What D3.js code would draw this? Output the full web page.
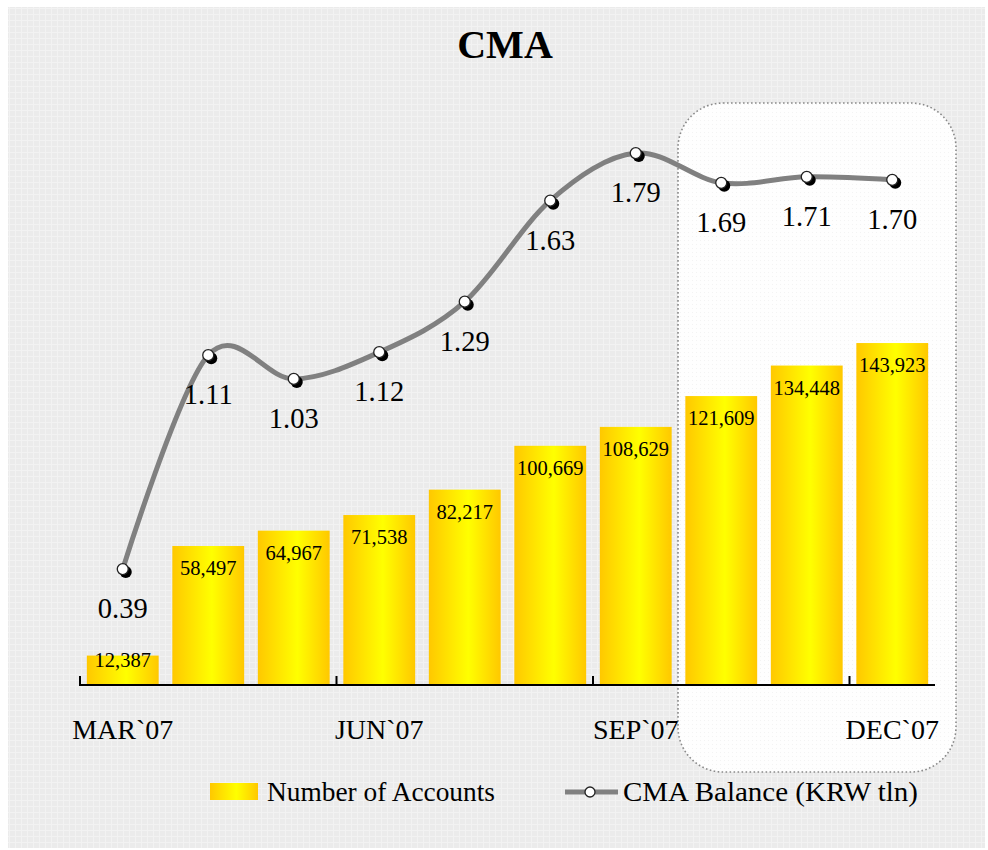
<!DOCTYPE html>
<html>
<head>
<meta charset="utf-8">
<script src="https://cdn.jsdelivr.net/npm/d3@7"></script>
<style>
  html, body { margin: 0; padding: 0; background: #ffffff; }
  svg { display: block; }
  text { font-family: "Liberation Serif", "Times New Roman", serif; fill: #000; }
</style>
</head>
<body>
<svg id="chart" width="988" height="850"></svg>
<script>
// ---- data ----
const categories = ["MAR`07", "APR`07", "MAY`07", "JUN`07", "JUL`07", "AUG`07", "SEP`07", "OCT`07", "NOV`07", "DEC`07"];
const accounts = [12387, 58497, 64967, 71538, 82217, 100669, 108629, 121609, 134448, 143923];
const balance = [0.39, 1.11, 1.03, 1.12, 1.29, 1.63, 1.79, 1.69, 1.71, 1.70];
const tickLabels = ["MAR`07", "JUN`07", "SEP`07", "DEC`07"];
const tickBoundaries = [0, 3, 6, 9];
const seriesNames = ["Number of Accounts", "CMA Balance (KRW tln)"];
const title = "CMA";

// ---- layout ----
const svg = d3.select("#chart");
const baseY = 685;
const x = d3.scaleBand().domain(categories).range([80, 935]).paddingInner(0.16).paddingOuter(0.08);
const xIdx = d3.scaleLinear().domain([0, categories.length]).range([80, 935]);
const yBar = d3.scaleLinear().domain([0, 150000]).range([baseY, baseY - 356.4]);
const yLine = d3.scaleLinear().domain([0, 2]).range([baseY, baseY - 594.3]);
const cx = d => x(d) + x.bandwidth() / 2;

const defs = svg.append("defs");
const grad = defs.append("linearGradient").attr("id", "barGrad").attr("x1", "0").attr("x2", "1").attr("y1", "0").attr("y2", "0");
grad.append("stop").attr("offset", "0").attr("stop-color", "#ffc800");
grad.append("stop").attr("offset", "0.55").attr("stop-color", "#ffff00");
grad.append("stop").attr("offset", "1").attr("stop-color", "#ffc800");

const pat = defs.append("pattern").attr("id", "bgPat").attr("width", 6).attr("height", 6).attr("patternUnits", "userSpaceOnUse");
pat.append("rect").attr("width", 6).attr("height", 6).attr("fill", "#ebebeb");
pat.append("rect").attr("x", 0).attr("y", 2).attr("width", 6).attr("height", 1).attr("fill", "#f2f2f2");
pat.append("rect").attr("x", 3).attr("y", 0).attr("width", 1).attr("height", 6).attr("fill", "#f2f2f2");

const dots = defs.append("pattern").attr("id", "dotPat").attr("width", 4).attr("height", 4).attr("patternUnits", "userSpaceOnUse");
dots.append("rect").attr("width", 4).attr("height", 4).attr("fill", "#fefefe");
dots.append("rect").attr("width", 1).attr("height", 1).attr("fill", "#f3f3f3");

// background
svg.append("rect").attr("x", 8).attr("y", 7).attr("width", 977).attr("height", 841).attr("fill", "url(#bgPat)");

// highlight box
svg.append("rect").attr("x", 678).attr("y", 103).attr("width", 278).attr("height", 669)
  .attr("rx", 45).attr("ry", 45)
  .attr("fill", "url(#dotPat)").attr("stroke", "#8a8a8a").attr("stroke-width", 1.6)
  .attr("stroke-dasharray", "1.6,2.4");

// title
svg.append("text").attr("x", 505).attr("y", 58).attr("text-anchor", "middle")
  .attr("font-size", 40).attr("font-weight", "bold").text(title);

// bars
svg.append("g").selectAll("rect").data(categories).join("rect")
  .attr("x", d => x(d)).attr("width", x.bandwidth())
  .attr("y", (d, i) => yBar(accounts[i])).attr("height", (d, i) => baseY - yBar(accounts[i]))
  .attr("fill", "url(#barGrad)");

// bar labels
svg.append("g").selectAll("text").data(categories).join("text")
  .attr("x", d => cx(d))
  .attr("y", (d, i) => Math.min(yBar(accounts[i]) + 29, baseY - 18))
  .attr("text-anchor", "middle").attr("font-size", 20.5)
  .text((d, i) => d3.format(",")(accounts[i]));

// axis
const axisG = svg.append("g");
axisG.append("line").attr("x1", xIdx(0) - 1).attr("x2", xIdx(categories.length)).attr("y1", baseY).attr("y2", baseY)
  .attr("stroke", "#000").attr("stroke-width", 2);
axisG.selectAll("line.tick").data(tickBoundaries).join("line").attr("class", "tick")
  .attr("x1", d => xIdx(d)).attr("x2", d => xIdx(d)).attr("y1", baseY).attr("y2", baseY - 9)
  .attr("stroke", "#000").attr("stroke-width", 2);
axisG.selectAll("text").data(tickLabels).join("text")
  .attr("x", d => cx(d)).attr("y", 739).attr("text-anchor", "middle").attr("font-size", 28).text(d => d);

// line
const line = d3.line().x((d, i) => cx(categories[i])).y(d => yLine(d)).curve(d3.curveCardinal.tension(0));
svg.append("path").datum(balance).attr("d", line).attr("fill", "none")
  .attr("stroke", "#808080").attr("stroke-width", 5);

// markers
const mk = svg.append("g");
mk.selectAll("circle.sh").data(balance).join("circle").attr("class", "sh")
  .attr("cx", (d, i) => cx(categories[i]) + 3).attr("cy", d => yLine(d) + 3).attr("r", 6).attr("fill", "#000");
mk.selectAll("circle.pt").data(balance).join("circle").attr("class", "pt")
  .attr("cx", (d, i) => cx(categories[i])).attr("cy", d => yLine(d)).attr("r", 5.5)
  .attr("fill", "#fff").attr("stroke", "#222").attr("stroke-width", 1.3);

// line labels
svg.append("g").selectAll("text").data(balance).join("text")
  .attr("x", (d, i) => cx(categories[i])).attr("y", d => yLine(d) + 49)
  .attr("text-anchor", "middle").attr("font-size", 28.5).text(d => d.toFixed(2));

// legend
const lg = svg.append("g");
lg.append("rect").attr("x", 210).attr("y", 783).attr("width", 48).attr("height", 17).attr("fill", "url(#barGrad)");
lg.append("text").attr("x", 267).attr("y", 801).attr("font-size", 28)
  .attr("textLength", 228).attr("lengthAdjust", "spacingAndGlyphs").text(seriesNames[0]);
lg.append("line").attr("x1", 565).attr("x2", 618).attr("y1", 792).attr("y2", 792).attr("stroke", "#808080").attr("stroke-width", 5);
lg.append("circle").attr("cx", 590).attr("cy", 792).attr("r", 5).attr("fill", "#fff").attr("stroke", "#222").attr("stroke-width", 1.3);
lg.append("text").attr("x", 623).attr("y", 801).attr("font-size", 28)
  .attr("textLength", 295).attr("lengthAdjust", "spacingAndGlyphs").text(seriesNames[1]);
</script>
</body>
</html>
